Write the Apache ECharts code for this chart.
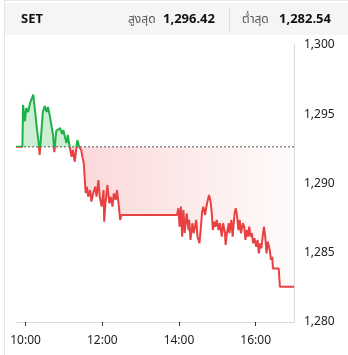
<!DOCTYPE html>
<html>
<head>
<meta charset="utf-8">
<script src="https://cdn.jsdelivr.net/npm/echarts@6/dist/echarts.min.js"></script>
<style>
html,body{margin:0;padding:0;background:#fff;}
#chart{width:348px;height:355px;}
</style>
</head>
<body>
<div id="chart"></div>
<script>
// ---- data ----
var symbolName = 'SET';
var highLabel = 'สูงสุด';
var lowLabel = 'ต่ำสุด';
var highValue = 1296.42;
var lowValue = 1282.54;
var prevClose = 1292.65;

var times = [
 '09:45','09:55','09:56','09:59','10:01','10:04','10:07','10:12','10:15','10:18',
 '10:20','10:22','10:24','10:27','10:30','10:33','10:35','10:38','10:41','10:43',
 '10:45','10:48','10:51','10:54','10:57','10:59','11:02','11:04','11:06','11:09',
 '11:12','11:14','11:17','11:21','11:24','11:27','11:29','11:31','11:33','11:34',
 '11:36','11:38','11:41','11:43','11:46','11:49','11:51','11:54','11:56','11:59',
 '12:02','12:03','12:05','12:08','12:11','12:13','12:16','12:18','12:21','12:23',
 '12:26','12:28','12:30',
 '13:57','13:59','14:01','14:03','14:05','14:07','14:09','14:12','14:15','14:16',
 '14:18','14:21','14:23','14:27','14:29','14:32','14:34','14:36','14:38','14:41',
 '14:42','14:44','14:47','14:49','14:51','14:53','14:55','14:57','14:59','15:02',
 '15:04','15:07','15:09','15:12','15:13','15:15','15:18','15:19','15:22','15:24',
 '15:27','15:29','15:31','15:33','15:35','15:37','15:40','15:42','15:44','15:46',
 '15:48','15:50','15:52','15:54','15:56','15:58','16:01','16:03','16:05','16:07',
 '16:09','16:11','16:13','16:15','16:17','16:19','16:22','16:24','16:26','16:27',
 '16:36','16:38','17:00'
];
var values = [
 1292.65,1292.65,1295.67,1294.51,1295.45,1295.16,1295.81,1296.42,1295.16,1293.86,
 1293.14,1292.06,1293.29,1295.16,1295.60,1295.16,1295.52,1294.87,1294.73,1293.50,
 1292.27,1293.79,1293.86,1294.01,1293.57,1293.86,1293.29,1292.92,1293.50,1292.65,
 1291.93,1292.42,1291.57,1293.14,1292.64,1292.42,1291.91,1291.48,1290.04,1289.31,
 1289.75,1289.05,1289.53,1288.69,1289.31,1289.77,1289.05,1290.25,1289.05,1288.33,
 1289.53,1287.24,1288.59,1289.89,1288.57,1289.05,1288.33,1289.29,1288.81,1289.53,
 1288.33,1287.37,1287.73,
 1287.73,1288.21,1286.88,1288.33,1286.16,1288.09,1286.43,1287.85,1286.64,1287.37,
 1285.92,1287.13,1286.41,1287.37,1286.16,1285.68,1286.64,1287.85,1288.33,1287.73,
 1288.09,1288.57,1289.17,1288.81,1288.09,1286.64,1287.24,1286.88,1287.37,1286.64,
 1287.13,1286.16,1287.13,1286.41,1285.56,1286.41,1287.13,1286.41,1287.37,1286.16,
 1287.85,1288.21,1287.61,1286.64,1287.37,1286.41,1287.13,1286.88,1285.92,1286.64,
 1286.16,1286.88,1286.16,1286.41,1285.68,1286.04,1285.44,1285.92,1284.96,1285.68,
 1285.32,1286.16,1286.88,1286.16,1284.96,1285.80,1285.20,1284.48,1284.71,1283.87,
 1283.87,1282.54,1282.54
];
var xTickTimes = ['10:00','12:00','14:00','16:00'];
var yTicks = [1280, 1285, 1290, 1295, 1300];

// ---- build ----
function toMin(s){ var p = s.split(':'); return (+p[0])*60 + (+p[1]); }
function fmtMin(m){ var h = Math.floor(m/60), mm = m%60; return (h<10?'0':'')+h+':'+(mm<10?'0':'')+mm; }
var lineData = times.map(function(t,i){ return [toMin(t), values[i]]; });
var upData = times.map(function(t,i){ return [toMin(t), Math.max(values[i], prevClose)]; });
var downData = times.map(function(t,i){ return [toMin(t), Math.min(values[i], prevClose)]; });
var baseData = [[toMin(times[0]), prevClose], [toMin(times[times.length-1]), prevClose]];
var xTickVals = xTickTimes.map(toMin);

var RED = '#e84142', GREEN = '#1db245';
var FONT = "'Segoe UI','Noto Sans','Noto Sans Thai','Tahoma','DejaVu Sans',sans-serif";

var chart = echarts.init(document.getElementById('chart'), null, {renderer:'canvas'});
chart.setOption({
  animation:false,
  textStyle:{fontFamily:FONT},
  grid:{left:16, top:45, right:54, bottom:33, containLabel:false, outerBoundsMode:'none'},
  xAxis:{
    type:'value', min:toMin('09:45'), max:toMin('17:00'),
    axisLine:{show:true, lineStyle:{color:'#d9d9d9', width:1}},
    axisTick:{show:true, customValues:xTickVals, length:4, lineStyle:{color:'#333'}},
    axisLabel:{customValues:xTickVals, formatter:function(v){return fmtMin(v);}, color:'#222', fontSize:12, margin:13, fontFamily:FONT},
    splitLine:{show:false}
  },
  yAxis:{
    type:'value', position:'right', min:yTicks[0], max:yTicks[yTicks.length-1], interval:5,
    axisLine:{show:true, lineStyle:{color:'#d9d9d9', width:1}},
    axisTick:{show:false},
    axisLabel:{color:'#222', fontSize:12, margin:10, fontFamily:FONT,
      formatter:function(v){return v.toLocaleString('en-US');}},
    splitLine:{show:false}
  },
  series:[
    {type:'line', data:upData, showSymbol:false, silent:true, lineStyle:{width:0, opacity:0},
     areaStyle:{origin:prevClose, color:'rgba(29,178,69,0.32)'}, z:1},
    {type:'line', data:downData, showSymbol:false, silent:true, lineStyle:{width:0, opacity:0},
     areaStyle:{origin:prevClose, color:new echarts.graphic.LinearGradient(0,0,1,0,[
        {offset:0, color:'rgba(236,80,84,0.40)'},{offset:1, color:'rgba(236,80,84,0.03)'}])}, z:1},
    {type:'line', data:baseData, showSymbol:false, silent:true, z:2,
     lineStyle:{type:[2,2], color:'#555', width:1}},
    {type:'line', data:lineData, showSymbol:false, lineStyle:{width:2, color:RED}, z:3}
  ],
  graphic:[
    {type:'rect', left:5, top:3, shape:{width:343, height:32}, style:{fill:'#f5f5f5'}, z:-1},
    {type:'line', shape:{x1:4, y1:0.5, x2:348, y2:0.5}, style:{stroke:'#e6e6e6', lineWidth:1}},
    {type:'line', shape:{x1:4.5, y1:0, x2:4.5, y2:355}, style:{stroke:'#e6e6e6', lineWidth:1}},
    {type:'line', shape:{x1:229.5, y1:9, x2:229.5, y2:31}, style:{stroke:'#dcdcdc', lineWidth:1}},
    {type:'text', x:21, y:19, style:{text:symbolName, font:"bold 13px "+FONT, fill:'#111', verticalAlign:'middle'}},
    {type:'text', x:128, y:20, style:{text:highLabel, font:"12px "+FONT, fill:'#555', verticalAlign:'middle'}},
    {type:'text', x:163, y:19, style:{text:highValue.toLocaleString('en-US',{minimumFractionDigits:2}), font:"bold 13px "+FONT, fill:'#111', verticalAlign:'middle'}},
    {type:'text', x:242, y:20, style:{text:lowLabel, font:"12px "+FONT, fill:'#555', verticalAlign:'middle'}},
    {type:'text', x:279, y:19, style:{text:lowValue.toLocaleString('en-US',{minimumFractionDigits:2}), font:"bold 13px "+FONT, fill:'#111', verticalAlign:'middle'}}
  ]
});
// colour the price line green above / red below the previous close (split at its pixel row)
var yBase = chart.convertToPixel({gridIndex:0}, [toMin(times[0]), prevClose])[1];
chart.setOption({series:[{},{},{},{lineStyle:{color:new echarts.graphic.LinearGradient(0, 0, 0, 355, [
  {offset:0, color:GREEN},{offset:yBase/355, color:GREEN},
  {offset:yBase/355, color:RED},{offset:1, color:RED}], true)}}]});
</script>
</body>
</html>
